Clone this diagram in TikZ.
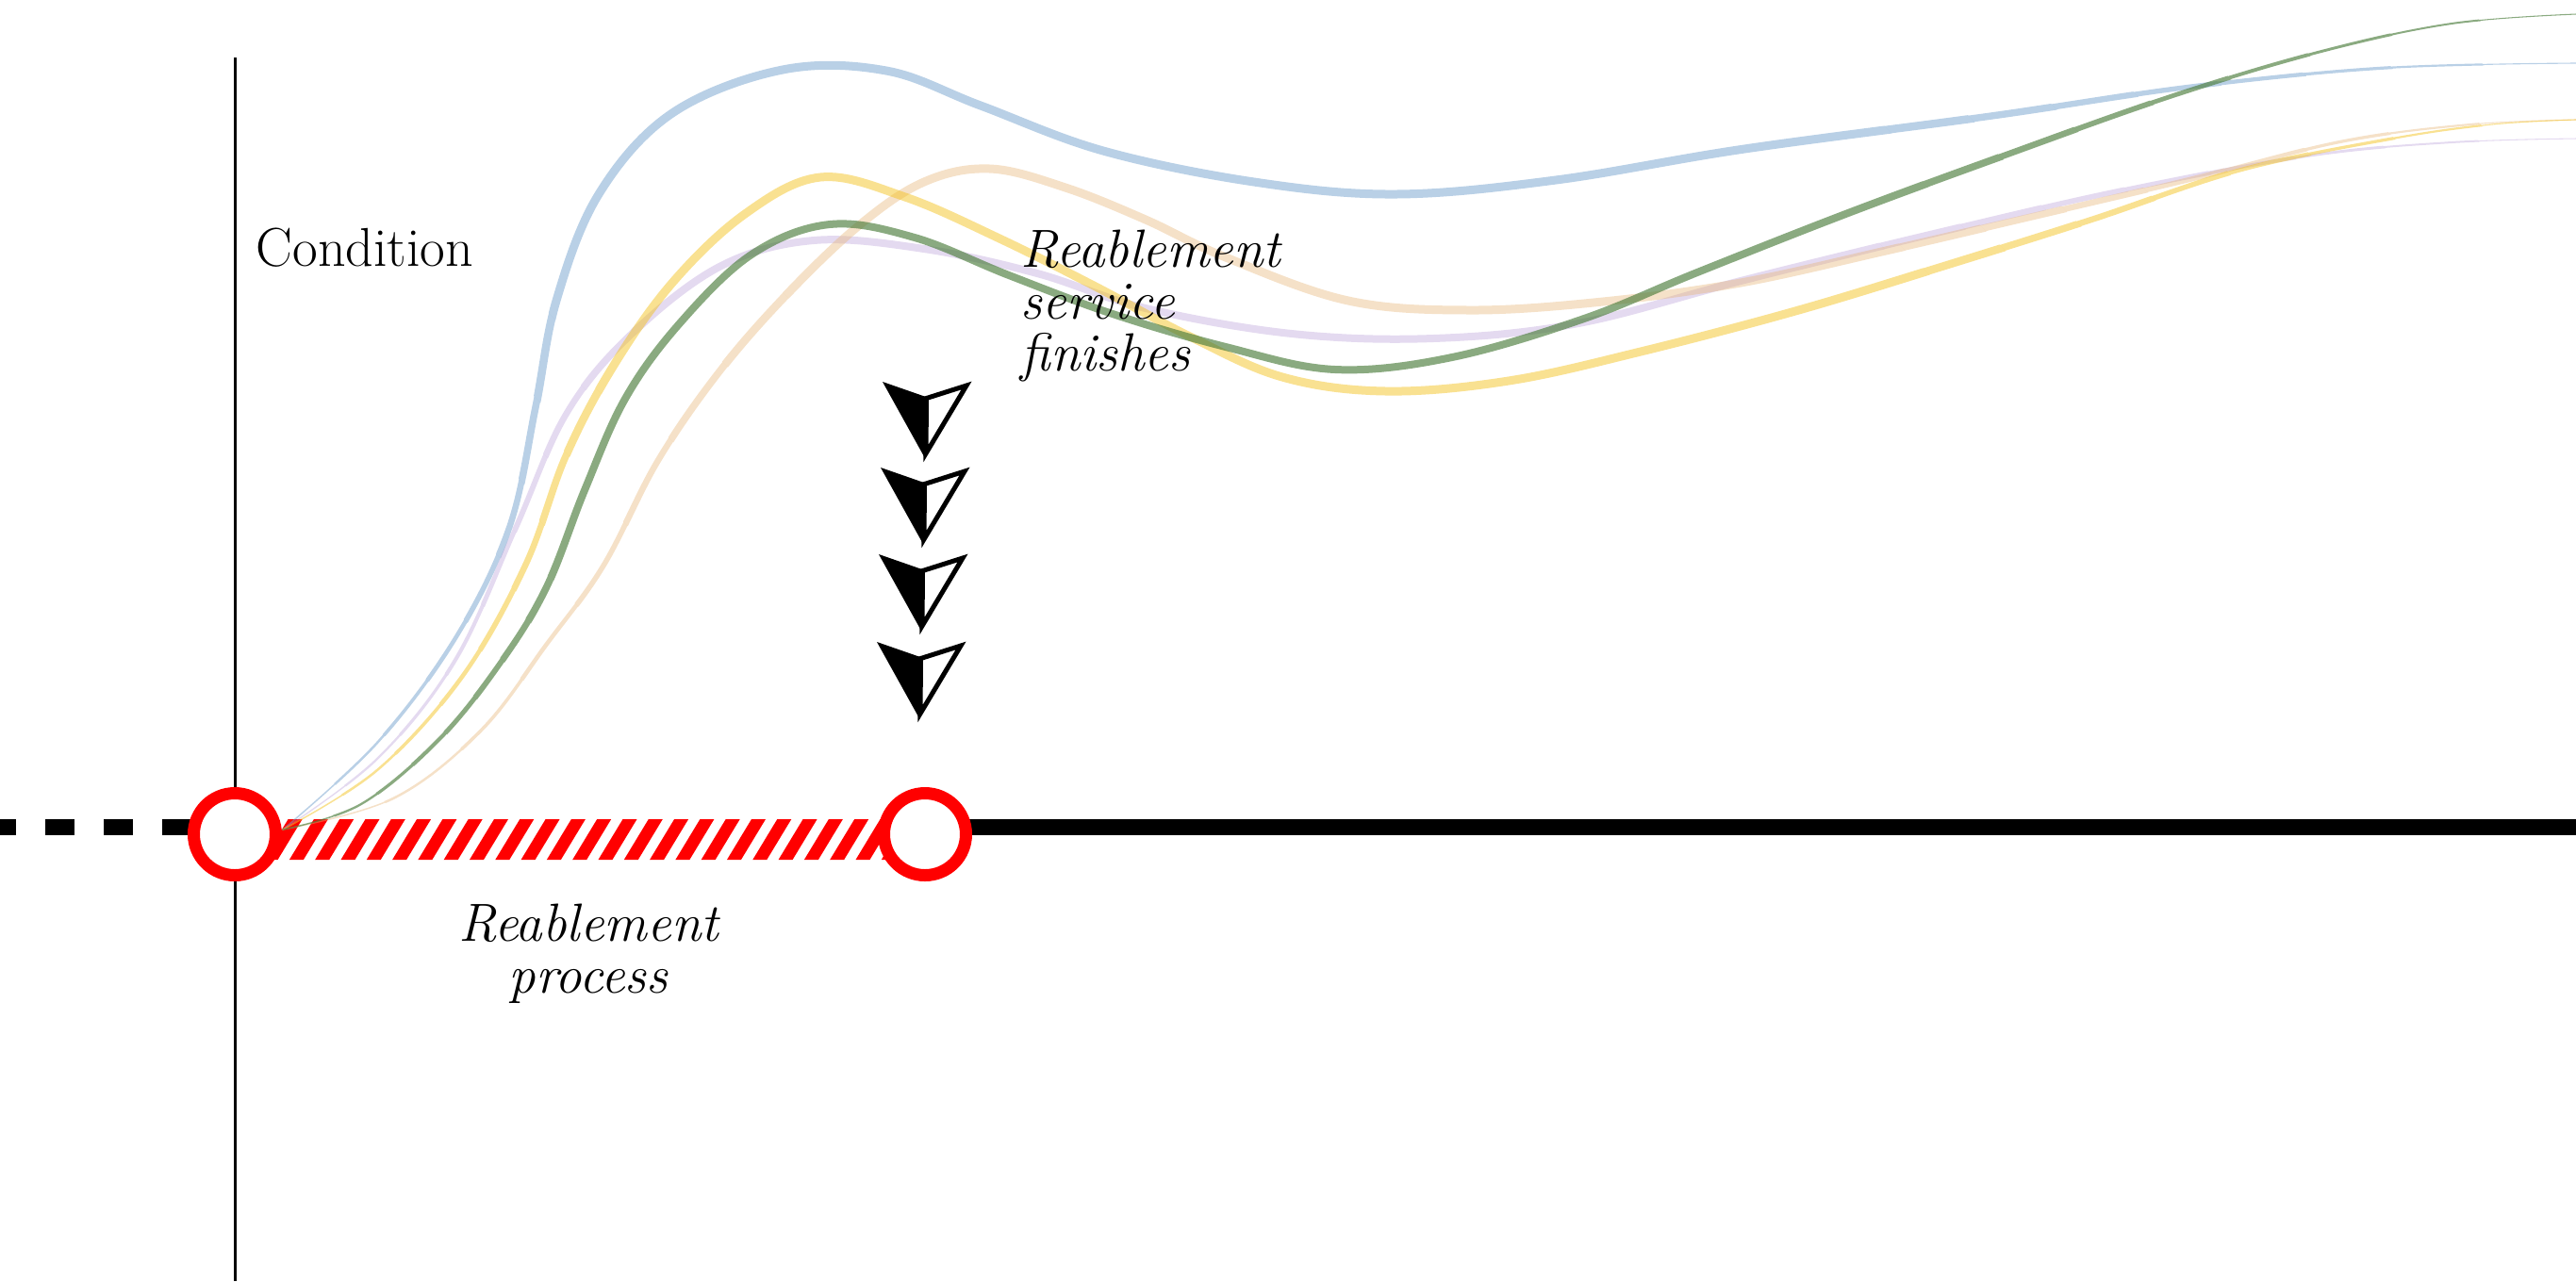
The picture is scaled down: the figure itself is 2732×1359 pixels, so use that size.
\documentclass[tikz,border=0pt]{standalone}
\newlength\pxu
\setlength\pxu{0.01cm}
\definecolor{cblue}{RGB}{115,161,205}
\definecolor{cyellow}{RGB}{243,195,35}
\definecolor{cgreen}{RGB}{75,125,60}
\definecolor{corange}{RGB}{230,180,117}
\definecolor{cpurple}{RGB}{178,149,212}
\definecolor{cred}{RGB}{255,0,0}
\tikzset{
  bluecurve/.style={draw=cblue,draw opacity=0.5,line cap=round},
  yellowcurve/.style={draw=cyellow,draw opacity=0.5,line cap=round},
  greencurve/.style={draw=cgreen,draw opacity=0.65,line cap=round},
  orangecurve/.style={draw=corange,draw opacity=0.4,line cap=round},
  purplecurve/.style={draw=cpurple,draw opacity=0.35,line cap=round},
  ring/.style={circle,draw=cred,line width=13\pxu,fill=white,minimum size=87\pxu,inner sep=0pt},
  baseline line/.style={line width=17\pxu,black},
  labeltext/.style={inner sep=0pt,font=\fontsize{16.5}{18}\selectfont},
  itlabel/.style={inner sep=0pt,font=\fontsize{16.2}{15.6}\selectfont\itshape},
  navarrow/.pic={
    \fill[black] (0,0) -- (-45,-81) -- (1,-65) -- cycle;
    \draw[line width=5\pxu,fill=white,line join=miter] (1.5,-63.5) -- (44,-77) -- (1,-5) -- cycle;
  }
}
% #1 style, #2 max width (px), #3 s start, #4 start taper length, #5 s end, #6 end taper length, #7 coordinates
\newcommand\taperplot[7]{%
  \foreach \i in {0,...,7}{%
    \pgfmathsetmacro\sa{#3+\i*#4/8-ifthenelse(\i==0,400,0)}%
    \pgfmathsetmacro\sb{#3+(\i+1)*#4/8}%
    \pgfmathsetmacro\lw{(1+(#2-1)*(\i+0.5)/8)*0.28453}%
    \begin{scope}
      \clip ({\sa-300},-300) -- ({\sa+1700},1700) -- ({\sb+1700},1700) -- ({\sb-300},-300) -- cycle;
      \draw[#1,line width=\lw pt] plot[smooth,tension=0.6] coordinates {#7};
    \end{scope}
  }%
  \pgfmathsetmacro\sa{#3+#4}%
  \pgfmathsetmacro\sb{#5-#6}%
  \begin{scope}
    \clip ({\sa-300},-300) -- ({\sa+1700},1700) -- ({\sb+1700},1700) -- ({\sb-300},-300) -- cycle;
    \draw[#1,line width=#2\pxu] plot[smooth,tension=0.6] coordinates {#7};
  \end{scope}
  \foreach \i in {0,...,7}{%
    \pgfmathsetmacro\sa{#5-#6+\i*#6/8}%
    \pgfmathsetmacro\sb{#5-#6+(\i+1)*#6/8+ifthenelse(\i==7,400,0)}%
    \pgfmathsetmacro\lw{(#2-(#2-0.6)*(\i+0.5)/8)*0.28453}%
    \begin{scope}
      \clip ({\sa-300},-300) -- ({\sa+1700},1700) -- ({\sb+1700},1700) -- ({\sb-300},-300) -- cycle;
      \draw[#1,line width=\lw pt] plot[smooth,tension=0.6] coordinates {#7};
    \end{scope}
  }%
}
\begin{document}
\begin{tikzpicture}[x=0.01cm,y=-0.01cm]
\useasboundingbox (0,0) rectangle (2732,1359);
% axis
\coordinate (axtop) at (249,61);
\coordinate (axbot) at (249,1359);
\draw[line width=3\pxu,black] (axtop) -- (axbot);
% time line
\coordinate (lstart) at (0,877);
\coordinate (p1) at (249,877);
\coordinate (p2) at (981,877);
\coordinate (lend) at (2732,877);
\draw[baseline line,dash pattern=on 31\pxu off 31\pxu,dash phase=14\pxu] (lstart) -- (p1);
\draw[baseline line] (p2) -- (lend);
% hatched bar
\begin{scope}
  \clip (249,869) rectangle (981,912);
  \foreach \k in {0,...,29}{
    \fill[cred] ({225+\k*27.3},912) -- ++(15,0) -- ++(26,-43) -- ++(-15,0) -- cycle;
  }
\end{scope}
% curves
\taperplot{bluecurve}{9}{-580}{830}{2665}{800}{(300,880) (400,788) (483,677) (540,560) (568,432) (590,319) (635,206) (713,120) (830,74) (940,75) (1040,112) (1170,160) (1330,193) (1480,206) (1650,191) (1850,158) (2112,123) (2324,92) (2530,72) (2732,67)}
\taperplot{purplecurve}{8}{-580}{900}{2585}{850}{(300,880) (400,805) (483,700) (547,560) (600,440) (667,357) (763,283) (863,255) (980,264) (1100,290) (1215,327) (1370,354) (1520,359) (1674,343) (1850,297) (2050,248) (2250,202) (2450,165) (2600,151) (2732,147)}
\taperplot{orangecurve}{9}{-580}{1100}{2605}{850}{(300,880) (417,847) (510,775) (580,683) (640,600) (697,490) (760,398) (830,317) (910,240) (980,193) (1050,179) (1130,199) (1215,233) (1300,273) (1430,319) (1560,329) (1700,320) (1846,300) (2000,266) (2150,231) (2324,190) (2484,150) (2620,132) (2732,127)}
\taperplot{yellowcurve}{9}{-580}{800}{2605}{850}{(300,880) (400,817) (490,718) (557,600) (600,484) (650,389) (713,300) (790,227) (870,188) (960,209) (1060,253) (1160,303) (1260,356) (1360,400) (1470,415) (1600,404) (1740,373) (1904,330) (2059,283) (2218,233) (2377,180) (2537,147) (2643,132) (2732,127)}
\taperplot{greencurve}{8}{-580}{550}{2717}{870}{(300,880) (383,853) (467,783) (533,700) (580,622) (620,520) (663,423) (720,344) (797,270) (880,238) (970,252) (1070,292) (1180,333) (1300,368) (1416,392) (1540,379) (1680,338) (1800,289) (1960,226) (2120,167) (2300,103) (2460,55) (2600,25) (2732,15)}
% circles
\node[ring] (c1) at (249,885) {};
\node[ring] (c2) at (981,885) {};
% arrows
\pic at (981,486) {navarrow};
\pic at (979,577) {navarrow};
\pic at (977,669) {navarrow};
\pic at (975,762) {navarrow};
% labels
\node[labeltext,anchor=base west] (cond) at (271,282) {Condition};
\node[itlabel,anchor=base west,align=left] (fin) at (1082,393) {Reablement\\service\\finishes};
\node[itlabel,anchor=base,align=center] (proc) at (624,1053) {Reablement\\process};
\end{tikzpicture}
\end{document}
